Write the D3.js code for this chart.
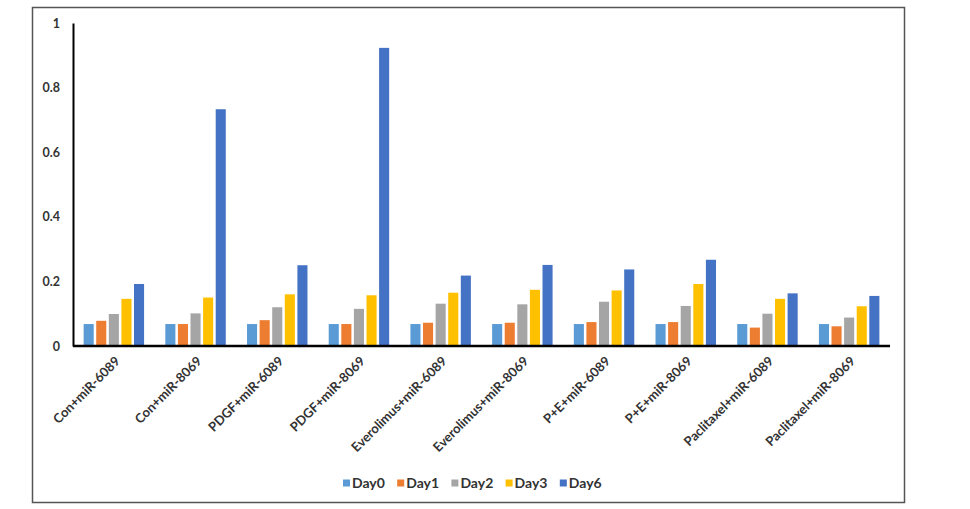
<!DOCTYPE html>
<html>
<head>
<meta charset="utf-8">
<script src="https://cdn.jsdelivr.net/npm/d3@7"></script>
<style>
  body { margin: 0; background: #fff; }
  text { font-family: Lato, "Open Sans", sans-serif; }
</style>
</head>
<body>
<div id="chart"></div>
<script>
// chart size, same as the window
const width = 970;
const height = 509;

// groups along the x axis
const groups = ["Con+miR-6089", "Con+miR-8069", "PDGF+miR-6089", "PDGF+miR-8069",
  "Everolimus+miR-6089", "Everolimus+miR-8069", "P+E+miR-6089", "P+E+miR-8069",
  "Paclitaxel+miR-6089", "Paclitaxel+miR-8069"];

// series (one per day)
const days = ["Day0", "Day1", "Day2", "Day3", "Day6"];
const colors = ["#5B9BD5", "#ED7D31", "#A5A5A5", "#FFC000", "#4472C4"];

// values, one array per day, in group order
const day0 = [0.068, 0.068, 0.068, 0.068, 0.068, 0.068, 0.068, 0.068, 0.068, 0.068];
const day1 = [0.078, 0.068, 0.080, 0.068, 0.072, 0.072, 0.074, 0.074, 0.057, 0.061];
const day2 = [0.099, 0.101, 0.120, 0.115, 0.131, 0.129, 0.137, 0.124, 0.100, 0.088];
const day3 = [0.146, 0.150, 0.160, 0.157, 0.165, 0.174, 0.172, 0.192, 0.146, 0.123];
const day6 = [0.192, 0.733, 0.250, 0.923, 0.218, 0.251, 0.237, 0.267, 0.163, 0.155];

const yTicks = [0, 0.2, 0.4, 0.6, 0.8, 1];

const series = [day0, day1, day2, day3, day6];

// build rows for the grouped bars
const data = groups.map((g, i) => {
  const row = {group: g};
  days.forEach((d, j) => row[d] = series[j][i]);
  return row;
});

const svg = d3.select("#chart")
  .append("svg")
  .attr("width", width)
  .attr("height", height);

// outer border of the chart area
svg.append("rect")
  .attr("x", 32.5)
  .attr("y", 7.5)
  .attr("width", 872)
  .attr("height", 495)
  .attr("fill", "#fff")
  .attr("stroke", "#555")
  .attr("stroke-width", 1.5);

const plot = {left: 73, right: 890, top: 23, bottom: 346};

// group scale
const x0 = d3.scaleBand()
  .domain(groups)
  .range([plot.left, plot.right])
  .paddingInner(0.26)
  .paddingOuter(0.13);

// bar scale inside each group
const x1 = d3.scaleBand()
  .domain(days)
  .range([0, x0.bandwidth()])
  .paddingInner(0.2);

const y = d3.scaleLinear()
  .domain([0, 1])
  .range([plot.bottom, plot.top]);

// bars
svg.append("g")
  .selectAll("g")
  .data(data)
  .join("g")
    .attr("transform", d => `translate(${x0(d.group)},0)`)
  .selectAll("rect")
  .data(d => days.map((k, j) => ({key: k, value: d[k], color: colors[j]})))
  .join("rect")
    .attr("x", d => x1(d.key))
    .attr("y", d => y(d.value))
    .attr("width", x1.bandwidth())
    .attr("height", d => y(0) - y(d.value))
    .attr("fill", d => d.color);

// y axis, only the line and labels
const yAxis = svg.append("g")
  .attr("transform", `translate(${plot.left},0)`)
  .call(d3.axisLeft(y).tickValues(yTicks).tickSize(0).tickPadding(13)
    .tickFormat(d3.format("~g")));
yAxis.select(".domain").attr("stroke", "#000").attr("stroke-width", 2);
yAxis.selectAll("text")
  .attr("font-size", "12.5px")
  .attr("font-weight", "bold")
  .attr("fill", "#333");

// x axis line
const xAxis = svg.append("g")
  .attr("transform", `translate(0,${plot.bottom})`)
  .call(d3.axisBottom(x0).tickSize(0).tickPadding(0));
xAxis.select(".domain")
  .attr("d", `M${plot.left},0H${plot.right}`)
  .attr("stroke", "#000")
  .attr("stroke-width", 2.5);
xAxis.selectAll("text")
  .attr("font-size", "13px")
  .attr("font-weight", "bold")
  .attr("fill", "#333")
  .attr("text-anchor", "end")
  .attr("dy", "0")
  .attr("transform", "translate(7,16) rotate(-45)");

// legend
const legend = svg.append("g")
  .attr("transform", "translate(343,483)");
let lx = 0;
days.forEach((d, j) => {
  const item = legend.append("g").attr("transform", `translate(${lx},0)`);
  item.append("rect")
    .attr("x", 0).attr("y", -3.5)
    .attr("width", 7).attr("height", 7)
    .attr("fill", colors[j]);
  item.append("text")
    .attr("x", 9).attr("y", 5)
    .attr("font-size", "14px")
    .attr("font-weight", "bold")
    .attr("fill", "#333")
    .text(d);
  lx += 54.2;
});
</script>
</body>
</html>
